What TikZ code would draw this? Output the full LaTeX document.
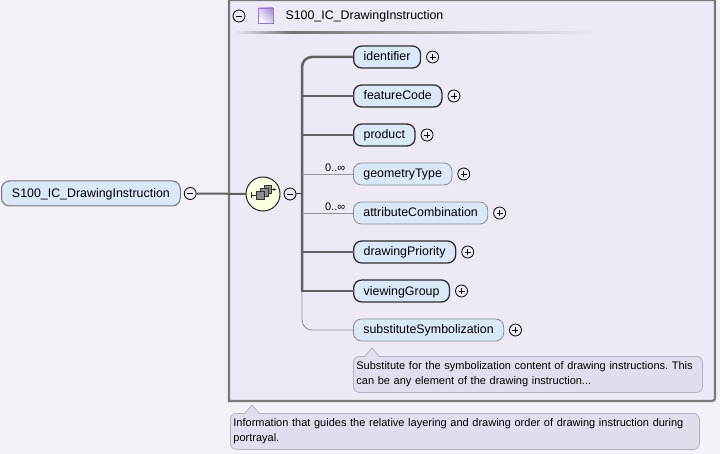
\documentclass[tikz,border=0pt]{standalone}
\usepackage{fontspec}
\setmainfont{Liberation Sans}
\usetikzlibrary{positioning,arrows.meta}
\frenchspacing

\definecolor{pagebg}{RGB}{244,242,248}
\definecolor{boxbg}{RGB}{237,234,245}
\definecolor{elemfill}{RGB}{219,232,248}
\definecolor{tipfill}{RGB}{227,222,237}
\definecolor{tipline}{RGB}{180,176,196}
\definecolor{boxline}{RGB}{122,122,122}
\definecolor{seqfill}{RGB}{255,255,226}
\definecolor{purp}{RGB}{150,122,208}

\newcommand{\elemfont}{\fontsize{12.4}{14}\selectfont}
\newcommand{\tipfont}{\fontsize{11}{15.5}\selectfont}

\begin{document}
\begin{tikzpicture}[x=1pt, y=-1pt,
        elem/.style={rectangle, rounded corners=8pt, draw=black!82, line width=1.3pt, fill=elemfill, minimum height=22pt, inner xsep=10pt, inner ysep=0pt, text height=9pt, text depth=1pt, anchor=west, font=\elemfont},
        optelem/.style={elem, draw=black!45, line width=0.8pt},
        pm/.style={circle, draw=black, line width=0.8pt, fill=boxbg, minimum size=12pt, inner sep=0pt},
        minus/.style={pm, path picture={\draw[line width=0.8pt] ([xshift=-3pt]path picture bounding box.center) -- ([xshift=3pt]path picture bounding box.center);}},
        plus/.style={pm, path picture={\draw[line width=0.8pt] ([xshift=-3pt]path picture bounding box.center) -- ([xshift=3pt]path picture bounding box.center) ([yshift=-3pt]path picture bounding box.center) -- ([yshift=3pt]path picture bounding box.center);}},
        link/.style={draw=black!62, line width=2.5pt, line cap=rect},
        optlink/.style={draw=black!42, line width=0.9pt},
        card/.style={font=\tipfont, inner sep=1.5pt},
        tip/.style={rectangle, rounded corners=6pt, fill=tipfill, draw=tipline, line width=0.8pt, anchor=north west, align=left, inner xsep=3pt, minimum height=36pt, font=\tipfont}
    ]
    \useasboundingbox (0,0) rectangle (720,454);
    \fill[pagebg] (0,0) rectangle (720,454);

    % Type box
    \fill[boxbg] (229,0) rectangle (715,401);
    \draw[boxline, line width=2.2pt] (229,0) -- (229,401) -- (709,401) .. controls (715,401) .. (715,395) -- (715,0) -- cycle;
    \node[minus] (hdrminus) at (239,16) {};
    \node[draw=purp, line width=0.8pt, minimum size=15pt, inner sep=0pt, left color=white, right color=purp!75, shading angle=135] (hdricon) at (265.5,15.5) {};
    \node[anchor=west, font=\elemfont] (hdrlabel) at (282,16) {S100\_IC\_DrawingInstruction};
    \shade[left color=boxbg, right color=black!55] (233,32) rectangle (292,34);
    \shade[left color=black!55, right color=boxbg] (292,32) rectangle (598,34);

    % Root element and sequence
    \node[elem, draw=black!55, line width=1pt, minimum height=25pt, inner xsep=10.5pt] (root) at (1,193.5) {S100\_IC\_DrawingInstruction};
    \node[minus, right=3pt of root] (rootminus) {};
    \node[circle, draw=black!85, line width=1pt, fill=seqfill, minimum size=34pt, inner sep=0pt] (seq) at (263,194) {};
    \node[minus] (seqminus) at (290,194) {};
    \coordinate (bus) at (302,194);

    \draw[link, line width=2pt] (rootminus) -- (seq);
    \draw[black!80, line width=1pt] (seqminus) -- (bus);

    % Sequence icon
    \draw[black!85, line width=0.9pt] (251,192) -- (251,198) (251,195) -- (257,195);
    \draw[black!80, fill=black!45, line width=0.6pt] (264,185.5) rectangle (271.5,193);
    \draw[black!80, fill=black!45, line width=0.6pt] (260.5,188.5) rectangle (268,196);
    \draw[black!80, fill=black!45, line width=0.6pt] (256.5,191.5) rectangle (264,199);
    \draw[black!85, line width=0.9pt, -{Latex[length=3pt, width=3pt]}] (271.5,189.5) -- (276.5,189.5);

    % Child elements
    \node[elem] (identifier) at (353,57) {identifier};
    \node[elem] (featureCode) at (353,96) {featureCode};
    \node[elem] (product) at (353,135) {product};
    \node[optelem] (geometryType) at (353,174) {geometryType};
    \node[optelem] (attributeCombination) at (353,213) {attributeCombination};
    \node[elem] (drawingPriority) at (353,252) {drawingPriority};
    \node[elem] (viewingGroup) at (353,291) {viewingGroup};
    \node[optelem] (substituteSymbolization) at (353,330) {substituteSymbolization};

    \node[plus, right=5pt of identifier] (identifierplus) {};
    \node[plus, right=5pt of featureCode] (featureCodeplus) {};
    \node[plus, right=5pt of product] (productplus) {};
    \node[plus, right=5pt of geometryType] (geometryTypeplus) {};
    \node[plus, right=5pt of attributeCombination] (attributeCombinationplus) {};
    \node[plus, right=5pt of drawingPriority] (drawingPriorityplus) {};
    \node[plus, right=5pt of viewingGroup] (viewingGroupplus) {};
    \node[plus, right=5pt of substituteSymbolization] (substituteSymbolizationplus) {};

    % Connectors
    \draw[link, rounded corners=10pt, line cap=butt] (identifier.west) -| (bus |- viewingGroup.west);
    \draw[optlink, rounded corners=10pt] (bus |- viewingGroup.west) |- (substituteSymbolization.west);
    \draw[link] (bus |- featureCode.west) -- (featureCode.west);
    \draw[link] (bus |- product.west) -- (product.west);
    \draw[optlink] (bus |- geometryType.west) -- node[card, above, pos=0.65] {0..∞} (geometryType.west);
    \draw[optlink] (bus |- attributeCombination.west) -- node[card, above, pos=0.65] {0..∞} (attributeCombination.west);
    \draw[link] (bus |- drawingPriority.west) -- (drawingPriority.west);
    \draw[link] (bus |- viewingGroup.west) -- (viewingGroup.west);

    % Annotations
    \node[tip, text width=343pt] (tipsubst) at (353,356) {Substitute for the symbolization content of drawing instructions. This\\can be any element of the drawing instruction...};
    \fill[tipfill] ([xshift=12pt, yshift=-0.8pt]tipsubst.north west) -- ++(7,-8.8) -- ++(7,8.8) -- cycle;
    \draw[tipline, line width=0.8pt] ([xshift=12pt]tipsubst.north west) -- ++(7,-8) -- ++(7,8);

    \node[tip, text width=463pt] (tiptype) at (230,413) {Information that guides the relative layering and drawing order of drawing instruction during\\portrayal.};
    \fill[tipfill] ([xshift=15pt, yshift=-0.8pt]tiptype.north west) -- ++(7,-8.8) -- ++(7,8.8) -- cycle;
    \draw[tipline, line width=0.8pt] ([xshift=15pt]tiptype.north west) -- ++(7,-8) -- ++(7,8);

\end{tikzpicture}
\end{document}
